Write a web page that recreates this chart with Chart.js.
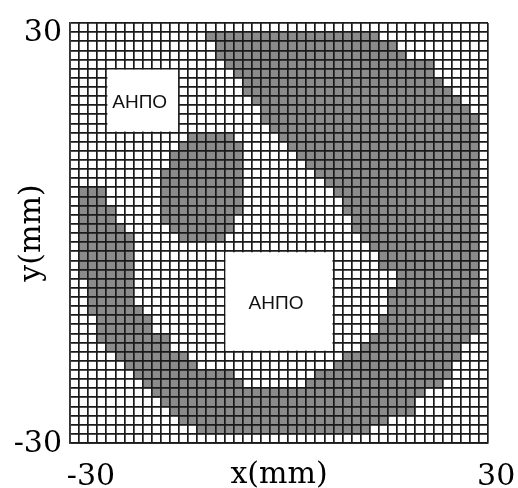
<!DOCTYPE html>
<html>
<head>
<meta charset="utf-8">
<script src="https://cdn.jsdelivr.net/npm/chart.js@4.4.1/dist/chart.umd.min.js"></script>
<style>
  body { margin: 0; background: #fff; }
</style>
</head>
<body>
<canvas id="cellsChart" width="518" height="488"></canvas>
<script>
// 46 x 46 cell mesh over -30..30 mm, rows listed from the top
const gridCells = 46;
const xTickLabels = ["-30", "30"];
const yTickLabels = ["30", "-30"];
const xTitle = "x(mm)";
const yTitle = "y(mm)";

// gray runs per row: [first column, last column], null = no run
const outerArc = [
  null, [15, 33], [16, 35], [16, 36], [17, 39], [18, 39], [19, 40], [19, 41],
  [20, 42], [21, 43], [21, 44], [22, 44], [23, 44], [24, 44], [25, 44], [26, 44],
  [27, 44], [28, 44], [29, 44], [30, 44], [30, 44], [31, 44], [31, 44], [32, 44],
  [33, 44], [34, 44], [34, 44], [36, 44], [36, 44], [35, 44], [35, 44], [35, 44],
  [34, 44], [34, 44], [33, 43], [32, 42], [30, 42], [29, 41], [27, 41], [26, 40],
  null, null, null, null, null, null,
];

const lowerArc = [
  null, null, null, null, null, null, null, null,
  null, null, null, null, null, null, null, null,
  null, null, [1, 3], [1, 3], [1, 4], [1, 4], [1, 5], [1, 6],
  [1, 6], [1, 6], [1, 6], [1, 6], [2, 6], [2, 6], [2, 6], [2, 7],
  [3, 8], [3, 8], [3, 10], [4, 10], [5, 12], [6, 13], [7, 17], [8, 18],
  [9, 38], [10, 37], [11, 37], [12, 34], [14, 32], null,
];

const blob = [
  null, null, null, null, null, null, null, null,
  null, null, null, null, [13, 17], [12, 18], [11, 18], [11, 18],
  [10, 18], [10, 18], [10, 18], [10, 18], [10, 18], [10, 17], [11, 17], [12, 16],
  null, null, null, null, null, null, null, null,
  null, null, null, null, null, null, null, null,
  null, null, null, null, null, null,
];

// empty regions (columns x0..x1, rows y0..y1, edges in cell units)
const emptyBoxes = [
  { x0: 4, x1: 12, y0: 5, y1: 12, label: "АНПО" },
  { x0: 17, x1: 29, y0: 25, y1: 36, label: "АНПО" },
];

const rowLabels = outerArc.map((_, i) => String(i));
const cellGray = "#8b8b8b";
const lineColor = "#1a1a1a";
// where the two x labels sit along the bottom, in cell units
const xLabelAt = [2.3, 46.9];

function toBars(runs) {
  return runs.map((r) => (r ? [r[0], r[1] + 1] : null));
}

const emptyBoxPlugin = {
  id: "emptyBoxes",
  afterDraw(chart) {
    const { ctx, scales } = chart;
    const x = scales.x;
    const y = scales.y;
    const half = (y.getPixelForValue(1) - y.getPixelForValue(0)) / 2;
    ctx.save();
    emptyBoxes.forEach((b) => {
      const left = x.getPixelForValue(b.x0);
      const right = x.getPixelForValue(b.x1);
      const top = y.getPixelForValue(b.y0) - half;
      const bottom = y.getPixelForValue(b.y1 - 1) + half;
      ctx.fillStyle = "#ffffff";
      ctx.fillRect(left + 1, top + 1, right - left - 2, bottom - top - 2);
      ctx.fillStyle = "#111111";
      ctx.font = "19px 'Liberation Sans', Arial, sans-serif";
      ctx.textAlign = "center";
      ctx.textBaseline = "middle";
      ctx.fillText(b.label, (left + right) / 2 - 3, (top + bottom) / 2 + 2);
    });
    ctx.restore();
  },
};

const axisFont = { family: "'DejaVu Serif', 'Liberation Serif', serif", size: 30, lineHeight: 1 };

const ctx = document.getElementById("cellsChart").getContext("2d");
new Chart(ctx, {
  type: "bar",
  data: {
    labels: rowLabels,
    datasets: [outerArc, lowerArc, blob].map((runs) => ({
      data: toBars(runs),
      backgroundColor: cellGray,
      borderWidth: 0,
      barPercentage: 1,
      categoryPercentage: 1,
      grouped: false,
    })),
  },
  options: {
    indexAxis: "y",
    responsive: false,
    animation: false,
    layout: { padding: { top: 22, right: 30, bottom: 0, left: 0 } },
    scales: {
      x: {
        type: "linear",
        position: "bottom",
        min: 0,
        max: gridCells,
        grid: { color: lineColor, lineWidth: 1.7, z: 1, drawTicks: false },
        border: { color: "#333", width: 1.7, z: 1 },
        ticks: { display: false, stepSize: 1, autoSkip: false },
        afterFit: (scale) => {
          scale.height = 0;
          scale.paddingLeft = 0;
          scale.paddingRight = 0;
        },
      },
      xLabels: {
        type: "linear",
        axis: "x",
        position: "bottom",
        min: 0,
        max: gridCells,
        grid: { display: false, drawTicks: false },
        border: { display: false },
        afterBuildTicks: (scale) => {
          scale.ticks = xLabelAt.map((v) => ({ value: v }));
        },
        ticks: {
          autoSkip: false,
          maxRotation: 0,
          padding: 19,
          color: "#000",
          font: axisFont,
          callback: (v, i) => xTickLabels[i],
        },
        title: { display: true, text: xTitle, color: "#000", font: axisFont, padding: { top: 0, bottom: -2 } },
        afterFit: (scale) => {
          scale.height = 45;
          scale.paddingLeft = 0;
          scale.paddingRight = 0;
        },
      },
      y: {
        grid: { color: lineColor, lineWidth: 1.7, z: 1, drawTicks: false, offset: true },
        border: { color: "#333", width: 1.7, z: 1 },
        ticks: {
          autoSkip: false,
          padding: 8,
          labelOffset: 6,
          color: "#000",
          font: axisFont,
          callback: (v, i) => (i === 0 ? yTickLabels[0] : i === gridCells - 1 ? yTickLabels[1] : ""),
        },
        title: { display: true, text: yTitle, color: "#000", font: axisFont, padding: { top: 17, bottom: 0 } },
        afterFit: (scale) => {
          scale.width = 70;
        },
      },
    },
    plugins: {
      legend: { display: false },
      tooltip: { enabled: false },
    },
  },
  plugins: [emptyBoxPlugin],
});
</script>
</body>
</html>
